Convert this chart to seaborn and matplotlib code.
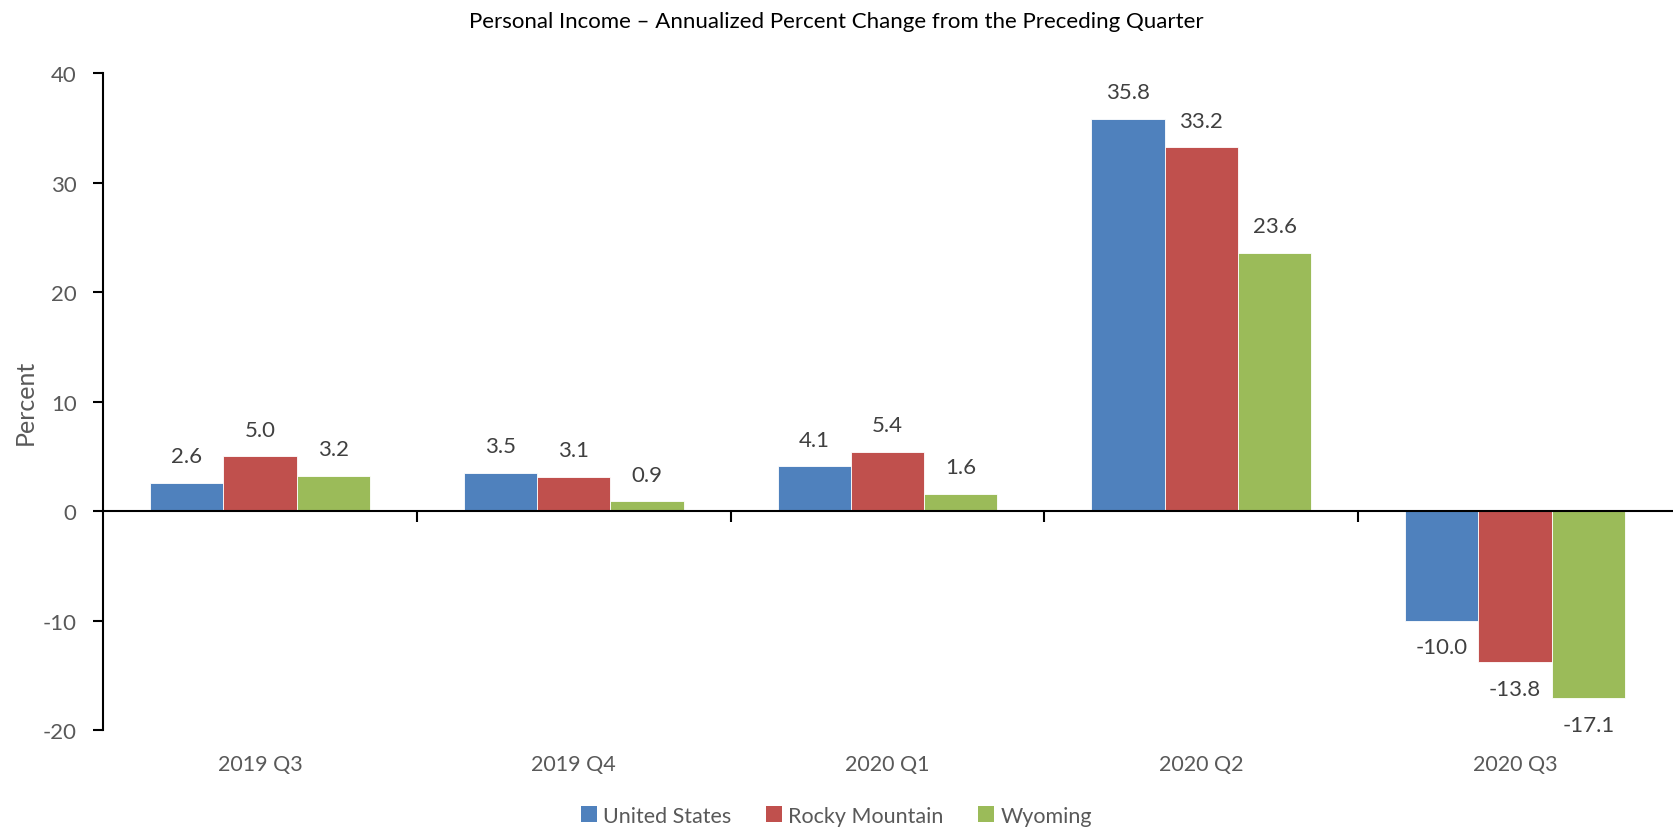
import matplotlib
matplotlib.use("Agg")
import matplotlib.pyplot as plt
import seaborn as sns
import pandas as pd
from matplotlib.patches import Patch

quarters = ["2019 Q3", "2019 Q4", "2020 Q1", "2020 Q2", "2020 Q3"]
united_states = [2.6, 3.5, 4.1, 35.8, -10.0]
rocky_mountain = [5.0, 3.1, 5.4, 33.2, -13.8]
wyoming = [3.2, 0.9, 1.6, 23.6, -17.1]
series_names = ["United States", "Rocky Mountain", "Wyoming"]
colors = ["#4F81BD", "#C0504D", "#9BBB59"]

df = pd.DataFrame({
    "Quarter": quarters * 3,
    "Region": [series_names[0]] * 5 + [series_names[1]] * 5 + [series_names[2]] * 5,
    "Value": united_states + rocky_mountain + wyoming,
})

sns.set_style("white")
plt.rcParams["font.family"] = ["Lato", "DejaVu Sans"]
plt.rcParams["axes.unicode_minus"] = False

fig = plt.figure(figsize=(16.73, 8.28), dpi=100)
ax = fig.add_axes([0.0616, 0.117, 0.9378, 0.7936])

sns.barplot(data=df, x="Quarter", y="Value", hue="Region", order=quarters,
            hue_order=series_names, palette=colors, width=0.7, ax=ax,
            edgecolor="white", linewidth=0.6, saturation=1, legend=False, errorbar=None)

ax.set_xlim(-0.5, 4.5)
ax.set_ylim(-20, 40)
ax.set_yticks([-20, -10, 0, 10, 20, 30, 40])
ax.tick_params(axis="y", labelsize=16, labelcolor="#595959", length=7, width=1.5,
               direction="out", left=True, color="black", pad=12)

for c in ax.containers:
    ax.bar_label(c, fmt="%.1f", padding=12, fontsize=16, color="#404040")

for s in ["top", "right"]:
    ax.spines[s].set_visible(False)
ax.spines["left"].set_color("black")
ax.spines["left"].set_linewidth(1.5)
ax.spines["bottom"].set_position(("data", 0))
ax.spines["bottom"].set_color("black")
ax.spines["bottom"].set_linewidth(1.5)
ax.set_xticks([0.5, 1.5, 2.5, 3.5])
ax.set_xticklabels([])
ax.tick_params(axis="x", length=8, width=1.5, direction="out", bottom=True, color="black")

sec = ax.secondary_xaxis("bottom")
sec.set_xticks(range(len(quarters)))
sec.set_xticklabels(quarters)
sec.tick_params(length=0, labelsize=15.5, labelcolor="#595959", pad=17)
sec.spines["bottom"].set_visible(False)

ax.set_xlabel("")
ax.set_ylabel("Percent", fontsize=18, color="#595959", labelpad=4)

fig.suptitle("Personal Income \u2013 Annualized Percent Change from the Preceding Quarter",
             fontsize=16, y=0.985, color="black")

handles = [Patch(facecolor=c, edgecolor="none") for c in colors]
fig.legend(handles, series_names, loc="lower center", bbox_to_anchor=(0.5, -0.022), ncol=3,
           frameon=False, fontsize=15.5, labelcolor="#595959", handlelength=0.75,
           handleheight=0.75, handletextpad=0.3, columnspacing=1.6)

fig.savefig("out.png", dpi=100)
